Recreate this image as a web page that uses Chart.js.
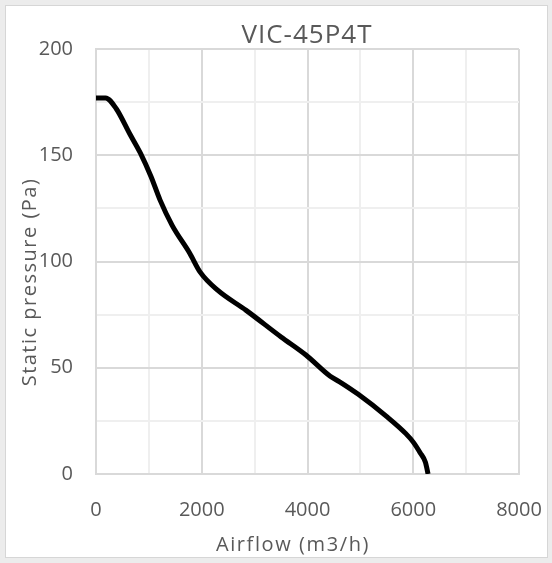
<!DOCTYPE html>
<html>
<head>
<meta charset="utf-8">
<script src="https://cdn.jsdelivr.net/npm/chart.js@4"></script>
<style>
  html, body { margin: 0; padding: 0; background: #ececec; }
  #frame {
    position: absolute; left: 5px; top: 5px; width: 541px; height: 551px;
    background: #fff; border: 1px solid #d6d6d6;
  }
  #c { position: absolute; left: 0; top: 0; }
</style>
</head>
<body>
<div id="frame"></div>
<canvas id="c" width="552" height="563"></canvas>
<script>
// fan curve
const airflow  = [0, 180, 380, 640, 840, 1040, 1210, 1440, 1770, 1970, 2300, 2840, 3500, 3970, 4430, 4600, 4960, 5500, 5860, 6000, 6130, 6230, 6280];
const pressure = [177, 177, 172, 160, 151, 140, 129, 117, 104, 95, 86.5, 77, 64.5, 56, 46, 43.5, 37.5, 27, 19, 15, 10, 5.5, 0];

const title = 'VIC-45P4T';
const xTitle = 'Airflow (m3/h)';
const yTitle = 'Static pressure (Pa)';
const xMax = 8000, yMax = 200;

const points = airflow.map((x, i) => ({ x: x, y: pressure[i] }));

const txt = '#595959';
const font = '"Open Sans", sans-serif';

// titles drawn by hand so they can sit where the original has them
const titles = {
  id: 'titles',
  afterDraw(chart) {
    const ctx = chart.ctx;
    ctx.save();
    ctx.fillStyle = txt;
    ctx.textAlign = 'center';
    ctx.textBaseline = 'alphabetic';
    ctx.font = '26px ' + font;
    ctx.letterSpacing = '1px';
    ctx.fillText(title, 307, 43);
    ctx.font = '20px ' + font;
    ctx.letterSpacing = '1.6px';
    ctx.fillText(xTitle, 293, 551);
    ctx.translate(36, 282);
    ctx.rotate(-Math.PI / 2);
    ctx.letterSpacing = '1.5px';
    ctx.fillText(yTitle, 0, 0);
    ctx.restore();
  }
};

new Chart(document.getElementById('c'), {
  type: 'line',
  data: {
    datasets: [{
      data: points,
      borderColor: '#000',
      borderWidth: 5,
      pointRadius: 0,
      fill: false,
      cubicInterpolationMode: 'monotone'
    }]
  },
  options: {
    responsive: false,
    animation: false,
    layout: { padding: { top: 49, right: 33, bottom: 0, left: 0 } },
    plugins: { legend: { display: false }, tooltip: { enabled: false } },
    scales: {
      x: {
        type: 'linear', min: 0, max: xMax,
        ticks: {
          stepSize: 1000, padding: 24, color: txt, font: { family: font, size: 20 },
          maxRotation: 0, autoSkip: false,
          callback: (v) => v % 2000 === 0 ? v : ''
        },
        grid: {
          drawTicks: false,
          color: (c) => c.tick && c.tick.value % 2000 === 0 ? '#d9d9d9' : '#efefef',
          lineWidth: 2
        },
        border: { color: '#d9d9d9', width: 2 },
        afterFit: (s) => { s.height = 563 - 474; s.paddingRight = 0; s.paddingLeft = 0; }
      },
      y: {
        min: 0, max: yMax,
        ticks: {
          stepSize: 25, padding: 23, color: txt, font: { family: font, size: 20 },
          callback: (v) => v % 50 === 0 ? v : ''
        },
        grid: {
          drawTicks: false,
          color: (c) => c.tick && c.tick.value % 50 === 0 ? '#d9d9d9' : '#efefef',
          lineWidth: 2
        },
        border: { color: '#d9d9d9', width: 2 },
        afterFit: (s) => { s.width = 96; }
      }
    }
  },
  plugins: [titles]
});
</script>
</body>
</html>
